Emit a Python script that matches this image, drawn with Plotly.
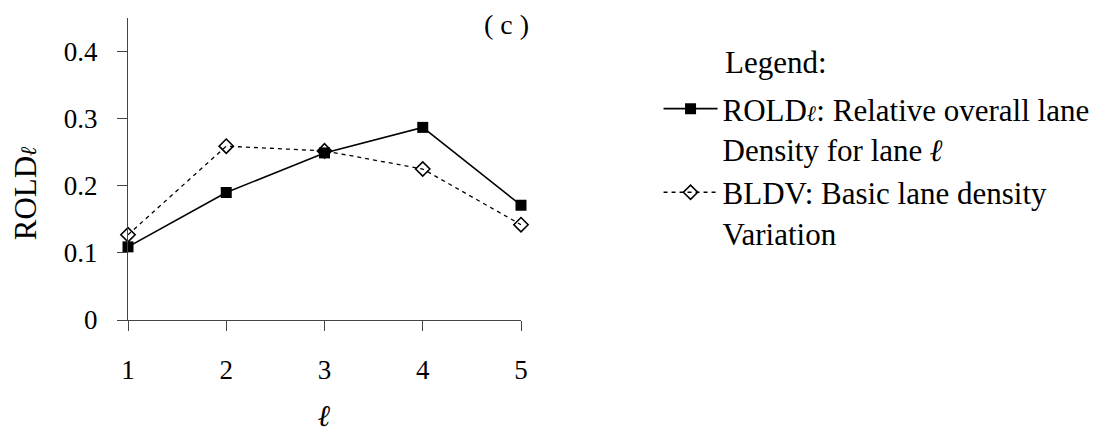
import plotly.graph_objects as go

lanes = [1, 2, 3, 4, 5]
rold = [0.109, 0.190, 0.249, 0.287, 0.171]
bldv = [0.127, 0.259, 0.252, 0.225, 0.142]
y_ticks = [0, 0.1, 0.2, 0.3, 0.4]
y_tick_text = ["0", "0.1", "0.2", "0.3", "0.4"]
ell = "<b><i>ℓ</i></b>"
rold_name = "ROLD<b><i><span style='font-size:22px'>ℓ</span></i></b>: Relative overall lane<br>Density for lane " + ell
bldv_name = "BLDV: Basic lane density<br>Variation"

FONT = "Times New Roman"

fig = go.Figure()
fig.add_trace(go.Scatter(
    x=lanes, y=rold, name=rold_name, mode="lines+markers",
    line=dict(color="black", width=1.6),
    marker=dict(symbol="square", size=11, color="black"),
    cliponaxis=False,
))
fig.add_trace(go.Scatter(
    x=lanes, y=bldv, name=bldv_name, mode="lines+markers",
    line=dict(color="black", width=1.3, dash="4px,4px"),
    marker=dict(symbol="diamond-open", size=11, color="black", line=dict(width=1.6)),
    cliponaxis=False,
))

fig.update_layout(
    template="none",
    width=1108, height=432,
    margin=dict(l=128, r=587, t=18, b=112, autoexpand=False),
    paper_bgcolor="white", plot_bgcolor="white",
    font=dict(family=FONT, size=27, color="black"),
    showlegend=True,
    legend=dict(
        x=1.35, y=0.788, xanchor="left", yanchor="top",
        font=dict(family=FONT, size=31, color="black"),
        valign="top", traceorder="normal",
        bgcolor="rgba(0,0,0,0)", itemwidth=54,
    ),
    xaxis=dict(
        range=[1, 5], tickvals=lanes, ticktext=[str(v) for v in lanes],
        showline=True, linecolor="#444", linewidth=1.3,
        ticks="outside", ticklen=10, tickcolor="#444", tickwidth=1.3,
        showgrid=False, zeroline=False, automargin=False,
        ticklabelstandoff=15,
        tickfont=dict(family=FONT, size=27),
        title=dict(text=ell, font=dict(family=FONT, size=30), standoff=34),
    ),
    yaxis=dict(
        range=[0, 0.45], tickvals=y_ticks, ticktext=y_tick_text,
        showline=True, linecolor="#444", linewidth=1.3,
        ticks="outside", ticklen=10, tickcolor="#444", tickwidth=1.3,
        showgrid=False, zeroline=False, automargin=False,
        ticklabelstandoff=14,
        tickfont=dict(family=FONT, size=27),
    ),
    annotations=[
        dict(text="ROLD" + "<b><i><span style='font-size:22px'>ℓ</span></i></b>",
             xref="paper", yref="paper", x=-0.262, y=0.42,
             xanchor="center", yanchor="middle", textangle=-90, showarrow=False,
             font=dict(family=FONT, size=31)),
        dict(text="( c )", xref="paper", yref="paper", x=0.962, y=0.98,
             xanchor="center", yanchor="middle", showarrow=False,
             font=dict(family=FONT, size=28)),
        dict(text="Legend:", xref="paper", yref="paper", x=1.515, y=0.853,
             xanchor="left", yanchor="middle", showarrow=False,
             font=dict(family=FONT, size=31)),
    ],
)

fig.write_html("out.html", config={"displayModeBar": False},
               post_script="document.body.style.margin='0';")
